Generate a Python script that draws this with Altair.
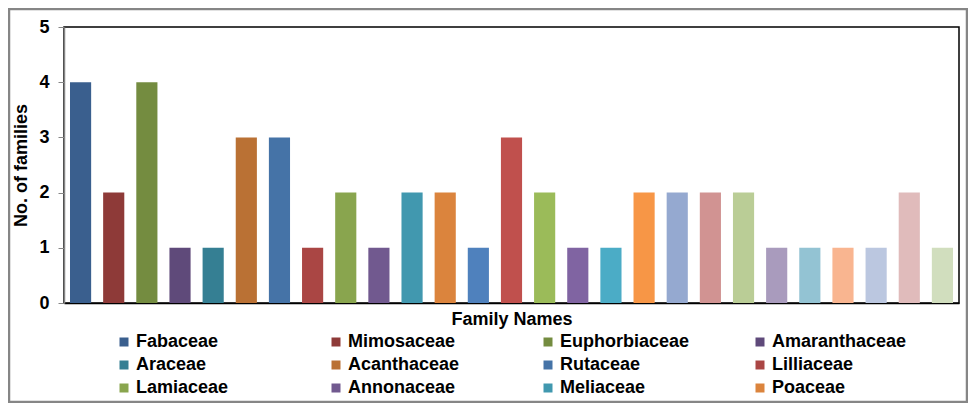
import altair as alt
import pandas as pd

families = [
    "Fabaceae", "Mimosaceae", "Euphorbiaceae", "Amaranthaceae",
    "Araceae", "Acanthaceae", "Rutaceae", "Lilliaceae",
    "Lamiaceae", "Annonaceae", "Meliaceae", "Poaceae",
    "Family 13", "Family 14", "Family 15", "Family 16", "Family 17",
    "Family 18", "Family 19", "Family 20", "Family 21", "Family 22",
    "Family 23", "Family 24", "Family 25", "Family 26", "Family 27",
]
counts = [4, 2, 4, 1, 1, 3, 3, 1, 2, 1, 2, 2, 1, 3, 2, 1, 1, 2, 2, 2, 2, 1, 1, 1, 1, 2, 1]
colors = [
    "#3A5F8E", "#8E3A38", "#748C40", "#5F4A7A", "#357F93", "#BA7134",
    "#4573A7", "#AA4644", "#89A54E", "#71598F", "#4198AF", "#DB843D",
    "#4F81BD", "#C0504D", "#9BBB59", "#8064A2", "#4BACC6", "#F79646",
    "#95A9D0", "#D19392", "#BACD96", "#A99BBD", "#93C3D3", "#F9B590",
    "#BBC7E0", "#E0BBBB", "#D1DEBE",
]
legend_names = families[:12]

df = pd.DataFrame({"family": families, "count": counts})

FONT = "Liberation Sans"
W, H = 895, 276

bars = alt.Chart(df).mark_bar().encode(
    x=alt.X(
        "family:N",
        sort=None,
        title="Family Names",
        scale=alt.Scale(paddingInner=0.362, paddingOuter=0.181),
        axis=alt.Axis(
            labels=False, ticks=False, domain=True, domainColor="#000000",
            domainWidth=1.5, titleFont=FONT, titleFontSize=18,
            titleFontWeight="bold", titleColor="#000000", titlePadding=7,
        ),
    ),
    y=alt.Y(
        "count:Q",
        title="No. of families",
        scale=alt.Scale(domain=[0, 5], nice=False),
        axis=alt.Axis(
            values=[0, 1, 2, 3, 4, 5], grid=False, domainColor="#868686",
            domainWidth=1.5, tickColor="#868686", tickSize=6, tickWidth=1,
            labelFont=FONT, labelFontSize=18, labelFontWeight="bold",
            labelColor="#000000", labelPadding=9, titleFont=FONT,
            titleFontSize=18, titleFontWeight="bold", titleColor="#000000",
            titlePadding=8,
        ),
    ),
    color=alt.Color(
        "family:N",
        sort=None,
        scale=alt.Scale(domain=families, range=colors),
        legend=alt.Legend(
            title=None, values=legend_names, orient="none",
            legendX=51, legendY=306, columns=4, direction="horizontal",
            gridAlign="all", columnPadding=56, rowPadding=5,
            symbolType="square", symbolSize=81, symbolStrokeWidth=0,
            labelFont=FONT, labelFontSize=18, labelFontWeight="bold",
            labelColor="#000000", labelOffset=3, padding=0, labelLimit=300,
        ),
    ),
)

frame = alt.Chart(pd.DataFrame({"a": [0]})).mark_rect(
    fill="transparent", stroke="#868686", strokeWidth=2.5
).encode(
    x=alt.value(-55), x2=alt.value(W + 8),
    y=alt.value(-18), y2=alt.value(H + 99),
)

chart = alt.layer(bars, frame).properties(
    width=W, height=H,
    autosize=alt.AutoSizeParams(type="none"),
    padding={"left": 56, "top": 19, "right": 9, "bottom": 100},
    background="#FFFFFF",
).configure_view(stroke="#000000", strokeWidth=1.5)

chart.save("out.html", embed_options={"renderer": "svg", "actions": False})
